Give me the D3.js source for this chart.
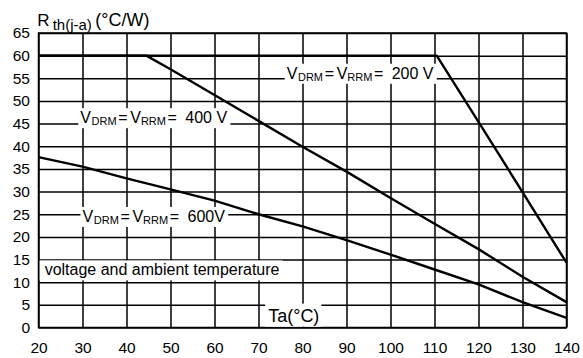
<!DOCTYPE html>
<html>
<head>
<meta charset="utf-8">
<script src="https://cdn.jsdelivr.net/npm/d3@7"></script>
<style>
  body { margin: 0; background: #fff; }
  svg { display: block; font-family: "Liberation Sans", Arial, sans-serif; }
  .grid line { stroke: #000; stroke-width: 1.5; }
  .tick text { font-size: 15.5px; fill: #000; }
</style>
</head>
<body>
<figure id="chart" style="margin:0"></figure>
<script>
// tick values
const xTicks = [20, 30, 40, 50, 60, 70, 80, 90, 100, 110, 120, 130, 140];
const yTicks = [0, 5, 10, 15, 20, 25, 30, 35, 40, 45, 50, 55, 60, 65];

// curves, [Ta, Rth]
const curve200 = [[20, 60], [110.5, 60], [120, 45.4], [130, 29.9], [140, 14.3]];
const curve400 = [[20, 60], [44.5, 60], [50, 57], [60, 51.3], [70, 45.6], [80, 39.9], [90, 34.4],
  [100, 28.6], [110, 22.9], [120, 17.3], [130, 11.2], [140, 5.6]];
const curve600 = [[20, 37.6], [30, 35.5], [40, 32.9], [50, 30.5], [60, 28], [70, 25], [80, 22.3],
  [90, 19.3], [100, 16.1], [110, 12.8], [120, 9.5], [130, 5.6], [140, 2.1]];

// label anchors [Ta, Rth] at text start / baseline
const labelVolts = ["200 V", "400 V", "600V"];
const labelPos = [[76.4, 54.9], [29.5, 45.1], [30, 23.3]];

const width = 583, height = 358;
const margin = {top: 33, right: 16.5, bottom: 30.5, left: 38.5};

const svg = d3.select("#chart").append("svg")
  .attr("width", width)
  .attr("height", height);

const x = d3.scaleLinear().domain([20, 140]).range([margin.left, width - margin.right]);
const y = d3.scaleLinear().domain([0, 65]).range([height - margin.bottom, margin.top]);

// grid + tick labels
svg.append("g")
  .attr("class", "grid")
  .attr("transform", `translate(0,${height - margin.bottom})`)
  .call(d3.axisBottom(x).tickValues(xTicks)
    .tickSizeInner(-(height - margin.bottom - margin.top))
    .tickSizeOuter(0)
    .tickPadding(14.3))
  .call(g => g.select(".domain").remove());

svg.append("g")
  .attr("class", "grid")
  .attr("transform", `translate(${margin.left},0)`)
  .call(d3.axisLeft(y).tickValues(yTicks)
    .tickSizeInner(-(width - margin.right - margin.left))
    .tickSizeOuter(0)
    .tickPadding(8.5))
  .call(g => g.select(".domain").remove());

svg.selectAll(".tick text").attr("font-family", null).attr("font-size", null);

// frame
svg.append("rect")
  .attr("x", x(20)).attr("y", y(65))
  .attr("width", x(140) - x(20)).attr("height", y(0) - y(65))
  .attr("fill", "none").attr("stroke", "#000").attr("stroke-width", 1.5);

// boxed text helper: white box behind the text
function boxed(build, pad) {
  const g = svg.append("g");
  const rect = g.append("rect").attr("fill", "#fff");
  const t = g.append("text").attr("fill", "#000");
  build(t);
  const b = t.node().getBBox();
  rect.attr("x", b.x - pad[3]).attr("y", b.y - pad[0])
    .attr("width", b.width + pad[1] + pad[3])
    .attr("height", b.height + pad[0] + pad[2]);
  return g;
}

// curves
const line = d3.line().x(d => x(d[0])).y(d => y(d[1]));
[curve600, curve400, curve200].forEach(c => {
  svg.append("path")
    .datum(c)
    .attr("d", line)
    .attr("fill", "none")
    .attr("stroke", "#000")
    .attr("stroke-width", 2.4)
    .attr("stroke-linejoin", "round");
});

// V_DRM = V_RRM labels
labelVolts.forEach((v, i) => {
  const x0 = x(labelPos[i][0]), y0 = y(labelPos[i][1]);
  boxed(t => {
    t.attr("font-size", 16);
    const parts = [
      ["V", 0, 0, 16], ["DRM", 11.3, 2, 11], ["=", 38, 0, 16], ["V", 50, 0, 16],
      ["RRM", 60.6, 2, 11], ["=", 87.3, 0, 16], [v, 105, 0, 16]
    ];
    parts.forEach(p => {
      t.append("tspan")
        .attr("x", x0 + p[1])
        .attr("y", y0 + p[2])
        .attr("font-size", p[3])
        .text(p[0]);
    });
  }, [1, 3, 1, 2]);
});

// description text
boxed(t => {
  t.attr("x", x(21.4)).attr("y", y(11.5)).attr("font-size", 16)
    .text("voltage and ambient temperature");
}, [1, 3, 2, 5]);

// x axis name
boxed(t => {
  t.attr("x", x(72.2)).attr("y", y(1.3)).attr("font-size", 18)
    .text("Ta(°C)");
}, [2, 2, 1, 3]);

// y axis name
const title = svg.append("text").attr("fill", "#000");
title.append("tspan").attr("x", 37.3).attr("y", 25.7).attr("font-size", 17).text("R");
title.append("tspan").attr("x", 52.7).attr("y", 30).attr("font-size", 15).text("th(j-a)");
title.append("tspan").attr("x", 95.3).attr("y", 25.7).attr("font-size", 18).text("(°C/W)");
</script>
</body>
</html>
